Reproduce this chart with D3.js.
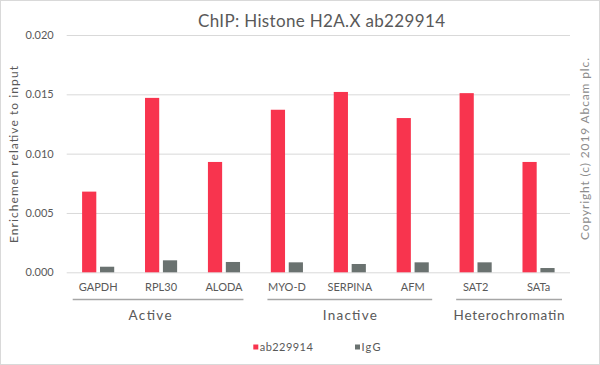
<!DOCTYPE html>
<html>
<head>
<meta charset="utf-8">
<script src="https://cdn.jsdelivr.net/npm/d3@7"></script>
<style>
  html, body { margin: 0; padding: 0; background: #fff; }
  svg { display: block; }
  text { font-family: "Century Gothic", "Lato", "Open Sans", sans-serif; fill: #595959; }
</style>
</head>
<body>
<svg id="chart" width="600" height="365"></svg>
<script>
const categories = ["GAPDH", "RPL30", "ALODA", "MYO-D", "SERPINA", "AFM", "SAT2", "SATa"];
const groupNames = ["Active", "Inactive", "Heterochromatin"];
const groupSizes = [3, 3, 2];
const seriesNames = ["ab229914", "IgG"];
const abValues = [0.0068, 0.0147, 0.0093, 0.0137, 0.0152, 0.0130, 0.0151, 0.0093];
const iggValues = [0.00047, 0.00101, 0.00087, 0.00084, 0.00070, 0.00084, 0.00084, 0.00036];
const yTicks = [0, 0.005, 0.010, 0.015, 0.020];
const colors = ["#f8344e", "#6a7270"];

const svg = d3.select("#chart");
const W = 600, H = 365;
const plot = { left: 66.7, right: 570, top: 35, bottom: 272.3 };

// outer border
svg.append("rect").attr("x", 0.5).attr("y", 0.5).attr("width", W - 1).attr("height", H - 1)
  .attr("fill", "#fff").attr("stroke", "#d9d9d9");

const x0 = d3.scaleBand().domain(categories).range([plot.left, plot.right]).paddingInner(0).paddingOuter(0);
const x1 = d3.scaleBand().domain(seriesNames).range([0, x0.bandwidth()]).paddingInner(0.207).paddingOuter(0.86);
const y = d3.scaleLinear().domain([0, 0.020]).range([plot.bottom, plot.top]);

// grid lines + tick labels
const yAxis = d3.axisLeft(y).tickValues(yTicks).tickFormat(d3.format(".3f"))
  .tickSize(-(plot.right - plot.left)).tickPadding(13);
const gy = svg.append("g").attr("transform", `translate(${plot.left},0)`).call(yAxis);
gy.select(".domain").remove();
gy.selectAll(".tick line").attr("stroke", "#d9d9d9").attr("stroke-width", 1);
gy.selectAll(".tick text").attr("font-size", "11px").attr("fill", "#595959")
  .style("font-family", '"Century Gothic", "Lato", sans-serif');

// bars
const rows = categories.map((c, i) => ({ cat: c, vals: [abValues[i], iggValues[i]] }));
const gBars = svg.append("g");
rows.forEach(r => {
  r.vals.forEach((v, si) => {
    gBars.append("rect")
      .attr("x", x0(r.cat) + x1(seriesNames[si]))
      .attr("y", y(v))
      .attr("width", x1.bandwidth())
      .attr("height", y(0) - y(v))
      .attr("fill", colors[si]);
  });
});

// category labels
svg.append("g").selectAll("text").data(categories).join("text")
  .attr("x", d => x0(d) + x0.bandwidth() / 2)
  .attr("y", 291)
  .attr("text-anchor", "middle")
  .attr("font-size", "11px")
  .text(d => d);

// group separators and labels
const groupLabelWidths = [43, 54, 111];
let idx = 0;
groupNames.forEach((g, gi) => {
  const first = categories[idx];
  const last = categories[idx + groupSizes[gi] - 1];
  idx += groupSizes[gi];
  const startInset = gi === 0 ? 6 : 12;
  const endInset = gi === groupNames.length - 1 ? 8 : 12;
  const xs = x0(first) + startInset;
  const xe = x0(last) + x0.bandwidth() - endInset;
  svg.append("line").attr("x1", xs).attr("x2", xe).attr("y1", 299.5).attr("y2", 299.5)
    .attr("stroke", "#a6a6a6").attr("stroke-width", 1.3);
  svg.append("text").attr("x", (xs + xe) / 2 - (gi === 0 ? 8 : 0)).attr("y", 320)
    .attr("text-anchor", "middle").attr("font-size", "13.5px")
    .attr("textLength", groupLabelWidths[gi]).attr("lengthAdjust", "spacing").text(g);
});

// title
svg.append("text").attr("x", 321.5).attr("y", 27).attr("text-anchor", "middle")
  .attr("font-size", "17px").attr("textLength", 247).attr("lengthAdjust", "spacing")
  .text("ChIP: Histone H2A.X ab229914");

// y axis title
svg.append("text").attr("transform", "translate(18,154.5) rotate(-90)")
  .attr("text-anchor", "middle").attr("font-size", "12px")
  .attr("textLength", 177).attr("lengthAdjust", "spacing")
  .text("Enrichemen relative to input");

// copyright
svg.append("text").attr("transform", "translate(588.5,149) rotate(-90)")
  .attr("text-anchor", "middle").attr("font-size", "12px")
  .style("fill", "#8c8c8c")
  .attr("textLength", 182).attr("lengthAdjust", "spacing")
  .text("Copyright (c) 2019 Abcam plc.");

// legend
const legendX = [253.3, 355];
const legendW = [53, 19];
seriesNames.forEach((s, i) => {
  svg.append("rect").attr("x", legendX[i]).attr("y", 344.5).attr("width", 5).attr("height", 5)
    .attr("fill", colors[i]);
  svg.append("text").attr("x", legendX[i] + 6.5).attr("y", 350.5)
    .attr("font-size", "11px").attr("textLength", legendW[i]).attr("lengthAdjust", "spacing").text(s);
});
</script>
</body>
</html>
